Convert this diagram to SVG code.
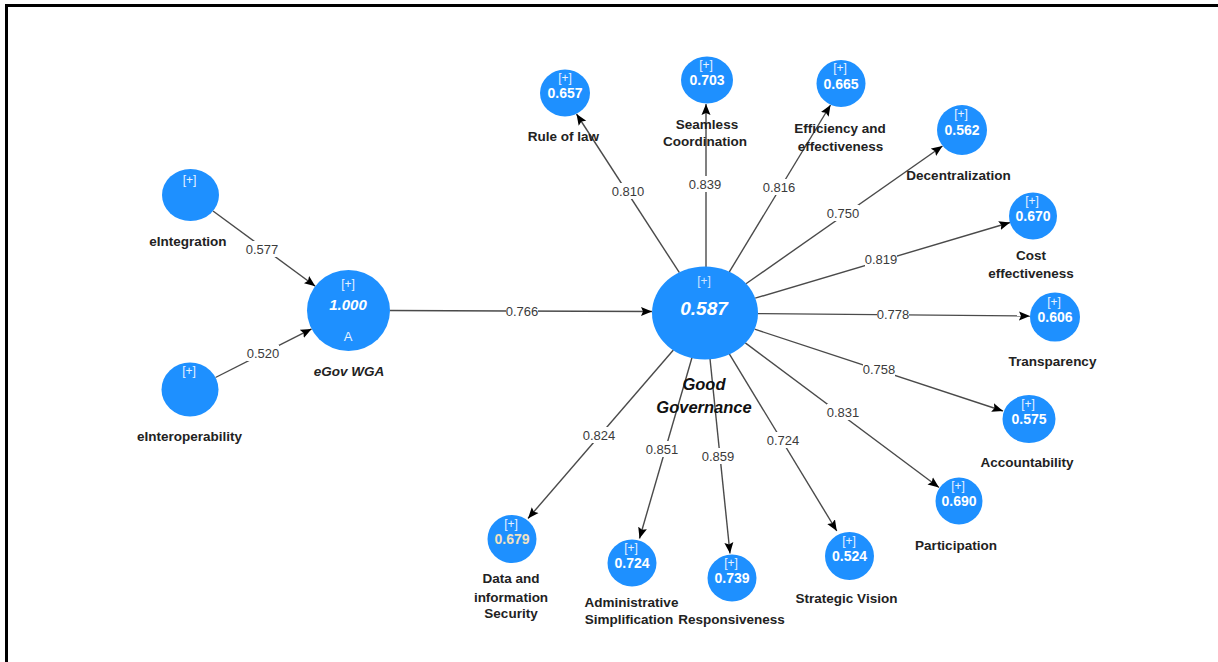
<svg xmlns="http://www.w3.org/2000/svg" width="1218" height="662" viewBox="0 0 1218 662">
  <defs>
    <marker id="arrow" markerUnits="userSpaceOnUse" markerWidth="12" markerHeight="10" refX="11" refY="5" orient="auto">
      <path d="M0,0.5 L11,5 L0,9.5 L2,5 Z" fill="#000"/>
    </marker>
    <style>
      .frame { fill: none; stroke: #000; stroke-width: 3; }
      .edge { stroke: #4a4a4a; stroke-width: 1.4; fill: none; marker-end: url(#arrow); }
      .lbl-bg { fill: #fff; }
      .coef { font-family: "Liberation Sans", Arial, sans-serif; font-size: 13px; fill: #3b3b3b; text-anchor: middle; }
      .node { fill: #1e90ff; }
      .plus { font-family: "Liberation Sans", Arial, sans-serif; font-size: 12px; fill: #e8f2ff; text-anchor: middle; }
      .val { font-family: "Liberation Sans", Arial, sans-serif; font-size: 14px; font-weight: bold; fill: #fff; text-anchor: middle; }
      .name { font-family: "Liberation Sans", Arial, sans-serif; font-size: 13.5px; font-weight: bold; fill: #222; text-anchor: middle; }
      .big { font-style: italic; font-weight: bold; }
      .gg-name { font-size: 16.5px; fill: #111; }
    </style>
  </defs>

  <rect width="1218" height="662" fill="#fff"/>
  <path class="frame" d="M6.5,662 V5.5 H1218"/>

  <!-- connectors -->
  <g id="connectors">
    <line class="edge" x1="213" y1="211" x2="315.3" y2="286.2"/>
    <line class="edge" x1="215.5" y1="377.5" x2="311.6" y2="328.9"/>
    <line class="edge" x1="390" y1="310.5" x2="652" y2="311.5"/>
    <line class="edge" x1="679.4" y1="272.7" x2="576.5" y2="114"/>
    <line class="edge" x1="706" y1="267" x2="706" y2="104"/>
    <line class="edge" x1="729.2" y1="272.1" x2="830.5" y2="105"/>
    <line class="edge" x1="746" y1="283.8" x2="942.5" y2="146"/>
    <line class="edge" x1="755.2" y1="298.2" x2="1010" y2="222.5"/>
    <line class="edge" x1="758" y1="313.6" x2="1030" y2="316"/>
    <line class="edge" x1="754.6" y1="329.2" x2="1003" y2="411"/>
    <line class="edge" x1="745.3" y1="342.9" x2="939" y2="487.5"/>
    <line class="edge" x1="729.3" y1="353.9" x2="836.8" y2="531"/>
    <line class="edge" x1="710" y1="358.8" x2="730" y2="553.5"/>
    <line class="edge" x1="692" y1="357.5" x2="639.5" y2="538.5"/>
    <line class="edge" x1="673.4" y1="350" x2="528" y2="518.5"/>

    <!-- path coefficients -->
    <g>
      <rect class="lbl-bg" x="246" y="241" width="32" height="16"/><text class="coef" x="262" y="253.5">0.577</text>
      <rect class="lbl-bg" x="247" y="345" width="32" height="16"/><text class="coef" x="263" y="357.5">0.520</text>
      <rect class="lbl-bg" x="506" y="303" width="32" height="16"/><text class="coef" x="522" y="315.5">0.766</text>
      <rect class="lbl-bg" x="612" y="183" width="32" height="16"/><text class="coef" x="628" y="195.5">0.810</text>
      <rect class="lbl-bg" x="689" y="176" width="32" height="16"/><text class="coef" x="705" y="188.5">0.839</text>
      <rect class="lbl-bg" x="763" y="179" width="32" height="16"/><text class="coef" x="779" y="191.5">0.816</text>
      <rect class="lbl-bg" x="827" y="205" width="32" height="16"/><text class="coef" x="843" y="217.5">0.750</text>
      <rect class="lbl-bg" x="865" y="251" width="32" height="16"/><text class="coef" x="881" y="263.5">0.819</text>
      <rect class="lbl-bg" x="877" y="306" width="32" height="16"/><text class="coef" x="893" y="318.5">0.778</text>
      <rect class="lbl-bg" x="863" y="361" width="32" height="16"/><text class="coef" x="879" y="373.5">0.758</text>
      <rect class="lbl-bg" x="827" y="404" width="32" height="16"/><text class="coef" x="843" y="416.5">0.831</text>
      <rect class="lbl-bg" x="583" y="427" width="32" height="16"/><text class="coef" x="599" y="439.5">0.824</text>
      <rect class="lbl-bg" x="646" y="441" width="32" height="16"/><text class="coef" x="662" y="453.5">0.851</text>
      <rect class="lbl-bg" x="702" y="448" width="32" height="16"/><text class="coef" x="718" y="460.5">0.859</text>
      <rect class="lbl-bg" x="767" y="432" width="32" height="16"/><text class="coef" x="783" y="444.5">0.724</text>
    </g>
  </g>

  <!-- exogenous constructs -->
  <g id="eIntegration">
    <ellipse class="node" cx="190.5" cy="195" rx="28.5" ry="26"/>
    <text class="plus" x="189.5" y="184">[+]</text>
    <text class="name" x="188" y="246">eIntegration</text>
  </g>
  <g id="eInteroperability">
    <ellipse class="node" cx="190" cy="389.5" rx="28.5" ry="27"/>
    <text class="plus" x="189" y="375">[+]</text>
    <text class="name" x="189.5" y="441">eInteroperability</text>
  </g>

  <!-- eGov WGA -->
  <g id="eGovWGA">
    <ellipse class="node" cx="348.5" cy="310.5" rx="41.5" ry="40.5"/>
    <text class="plus" x="348" y="288">[+]</text>
    <text class="val big" x="348" y="310" style="font-size:15px">1.000</text>
    <text class="plus" x="348" y="341" style="font-size:13px">A</text>
    <text class="name big" x="349" y="376">eGov WGA</text>
  </g>

  <!-- Good Governance -->
  <g id="GoodGovernance">
    <ellipse class="node" cx="705" cy="313" rx="53" ry="46.5"/>
    <text class="plus" x="704" y="285" style="fill:#cfe4ff">[+]</text>
    <text class="val big" x="704" y="314.5" style="font-size:19px">0.587</text>
    <text class="name big gg-name" x="704" y="390">Good</text>
    <text class="name big gg-name" x="704" y="413">Governance</text>
  </g>

  <!-- dimensions of governance -->
  <g id="RuleOfLaw">
    <ellipse class="node" cx="565" cy="93" rx="25" ry="23.5"/>
    <text class="plus" x="565" y="82">[+]</text>
    <text class="val" x="565" y="98">0.657</text>
    <text class="name" x="563.5" y="141">Rule of law</text>
  </g>
  <g id="SeamlessCoordination">
    <ellipse class="node" cx="707" cy="80" rx="26" ry="23.5"/>
    <text class="plus" x="706" y="69">[+]</text>
    <text class="val" x="707" y="85">0.703</text>
    <text class="name" x="707" y="129">Seamless</text>
    <text class="name" x="705" y="146">Coordination</text>
  </g>
  <g id="Efficiency">
    <ellipse class="node" cx="841" cy="83.5" rx="24.5" ry="23.5"/>
    <text class="plus" x="840" y="72">[+]</text>
    <text class="val" x="841" y="88.5">0.665</text>
    <text class="name" x="840" y="133">Efficiency and</text>
    <text class="name" x="840.5" y="151">effectiveness</text>
  </g>
  <g id="Decentralization">
    <ellipse class="node" cx="962" cy="130" rx="25" ry="25"/>
    <text class="plus" x="961" y="118">[+]</text>
    <text class="val" x="962" y="135">0.562</text>
    <text class="name" x="958.5" y="180">Decentralization</text>
  </g>
  <g id="CostEffectiveness">
    <ellipse class="node" cx="1033" cy="216" rx="24" ry="23.5"/>
    <text class="plus" x="1032" y="205">[+]</text>
    <text class="val" x="1033" y="221">0.670</text>
    <text class="name" x="1031" y="260">Cost</text>
    <text class="name" x="1031" y="277.5">effectiveness</text>
  </g>
  <g id="Transparency">
    <ellipse class="node" cx="1055" cy="317" rx="25" ry="24.5"/>
    <text class="plus" x="1054" y="306">[+]</text>
    <text class="val" x="1055" y="322">0.606</text>
    <text class="name" x="1052.5" y="366">Transparency</text>
  </g>
  <g id="Accountability">
    <ellipse class="node" cx="1029" cy="419" rx="26.5" ry="24"/>
    <text class="plus" x="1028" y="408">[+]</text>
    <text class="val" x="1029" y="424">0.575</text>
    <text class="name" x="1027" y="466.5">Accountability</text>
  </g>
  <g id="Participation">
    <ellipse class="node" cx="959" cy="501" rx="23.5" ry="23.5"/>
    <text class="plus" x="958" y="490">[+]</text>
    <text class="val" x="959" y="506">0.690</text>
    <text class="name" x="956" y="550">Participation</text>
  </g>
  <g id="StrategicVision">
    <ellipse class="node" cx="849.5" cy="556" rx="24.5" ry="24"/>
    <text class="plus" x="849" y="545">[+]</text>
    <text class="val" x="849.5" y="561">0.524</text>
    <text class="name" x="846.5" y="603">Strategic Vision</text>
  </g>
  <g id="Responsiveness">
    <ellipse class="node" cx="732" cy="578" rx="24.5" ry="23.5"/>
    <text class="plus" x="731" y="567">[+]</text>
    <text class="val" x="732" y="583">0.739</text>
    <text class="name" x="731.5" y="624">Responsiveness</text>
  </g>
  <g id="AdministrativeSimplification">
    <ellipse class="node" cx="632" cy="563" rx="24.5" ry="23.5"/>
    <text class="plus" x="631" y="552">[+]</text>
    <text class="val" x="632" y="568">0.724</text>
    <text class="name" x="631.5" y="606.5">Administrative</text>
    <text class="name" x="629" y="624">Simplification</text>
  </g>
  <g id="DataSecurity">
    <ellipse class="node" cx="512" cy="539" rx="24.5" ry="24"/>
    <text class="plus" x="511" y="528">[+]</text>
    <text class="val" x="512" y="544" style="fill:#f0e2c2">0.679</text>
    <text class="name" x="511" y="583">Data and</text>
    <text class="name" x="511" y="601.5">information</text>
    <text class="name" x="511" y="618">Security</text>
  </g>
</svg>
